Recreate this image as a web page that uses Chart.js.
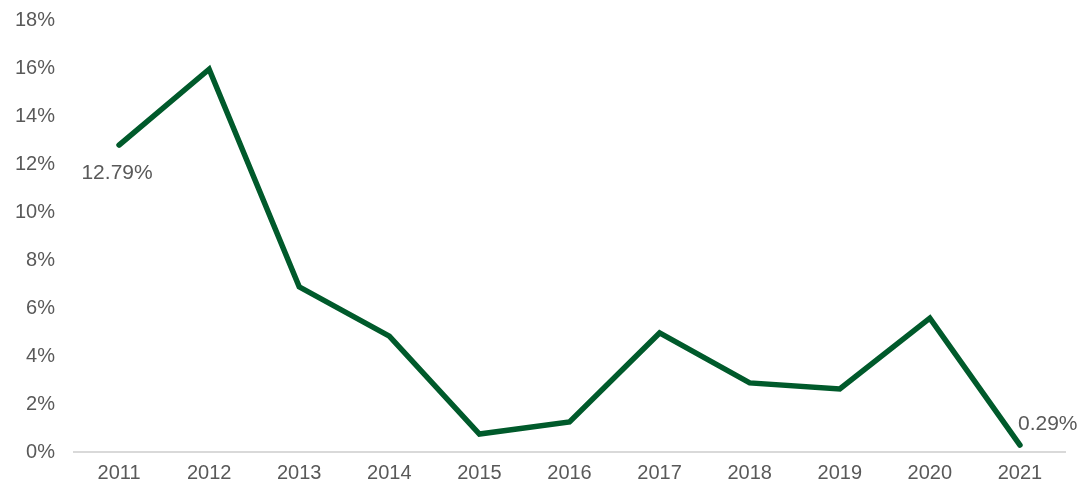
<!DOCTYPE html>
<html>
<head>
<meta charset="utf-8">
<script src="https://cdn.jsdelivr.net/npm/chart.js@4/dist/chart.umd.min.js"></script>
<style>
	html, body { margin: 0; padding: 0; background: #fff; }
	#wrap { width: 1081px; height: 487px; position: relative; }
</style>
</head>
<body>
<div id="wrap"><canvas id="chart"></canvas></div>
<script>
const years = ['2011', '2012', '2013', '2014', '2015', '2016', '2017', '2018', '2019', '2020', '2021'];
const rates = [12.79, 15.95, 6.88, 4.83, 0.75, 1.25, 4.96, 2.88, 2.63, 5.58, 0.29];
// only first and last points carry a label in the source
const labelled = { 0: 'below', 10: 'right' };

const textColor = '#595959';
const lineColor = '#005a2b';
const fontFamily = '"Liberation Sans", Arial, sans-serif';

const pointLabels = {
	id: 'pointLabels',
	afterDatasetsDraw(chart) {
		const ctx = chart.ctx;
		const meta = chart.getDatasetMeta(0);
		ctx.save();
		ctx.font = '21px ' + fontFamily;
		ctx.fillStyle = textColor;
		ctx.textBaseline = 'middle';
		Object.keys(labelled).forEach((k) => {
			const i = Number(k);
			const pt = meta.data[i];
			const txt = rates[i].toFixed(2) + '%';
			if (labelled[k] === 'below') {
				ctx.textAlign = 'center';
				ctx.fillText(txt, pt.x - 2, pt.y + 28);
			} else {
				ctx.textAlign = 'left';
				ctx.fillText(txt, pt.x - 2, pt.y - 21);
			}
		});
		ctx.restore();
	},
};

new Chart(document.getElementById('chart'), {
	type: 'line',
	data: {
		labels: years,
		datasets: [
			{
				data: rates,
				borderColor: lineColor,
				backgroundColor: lineColor,
				borderWidth: 5.5,
				pointRadius: 0,
				tension: 0,
				borderCapStyle: 'round',
				borderJoinStyle: 'miter',
			},
		],
	},
	options: {
		responsive: true,
		maintainAspectRatio: false,
		animation: false,
		layout: { padding: { top: 20, right: 16, left: 0, bottom: 0 } },
		plugins: {
			legend: { display: false },
			tooltip: { enabled: false },
		},
		scales: {
			x: {
				offset: true,
				grid: { display: false, drawTicks: false },
				border: { display: true, color: '#d9d9d9', width: 2 },
				ticks: {
					color: textColor,
					font: { family: fontFamily, size: 20 },
					padding: 9,
					maxRotation: 0,
				},
				afterFit: (scale) => { scale.height = 35; },
			},
			y: {
				min: 0,
				max: 18,
				grid: { display: false, drawTicks: false },
				border: { display: false },
				ticks: {
					stepSize: 2,
					color: textColor,
					font: { family: fontFamily, size: 20 },
					padding: 19,
					callback: (v) => v + '%',
				},
				afterFit: (scale) => {
					scale.width = 74;
					scale.paddingTop = 0;
					scale.paddingBottom = 0;
				},
			},
		},
	},
	plugins: [pointLabels],
});
</script>
</body>
</html>
